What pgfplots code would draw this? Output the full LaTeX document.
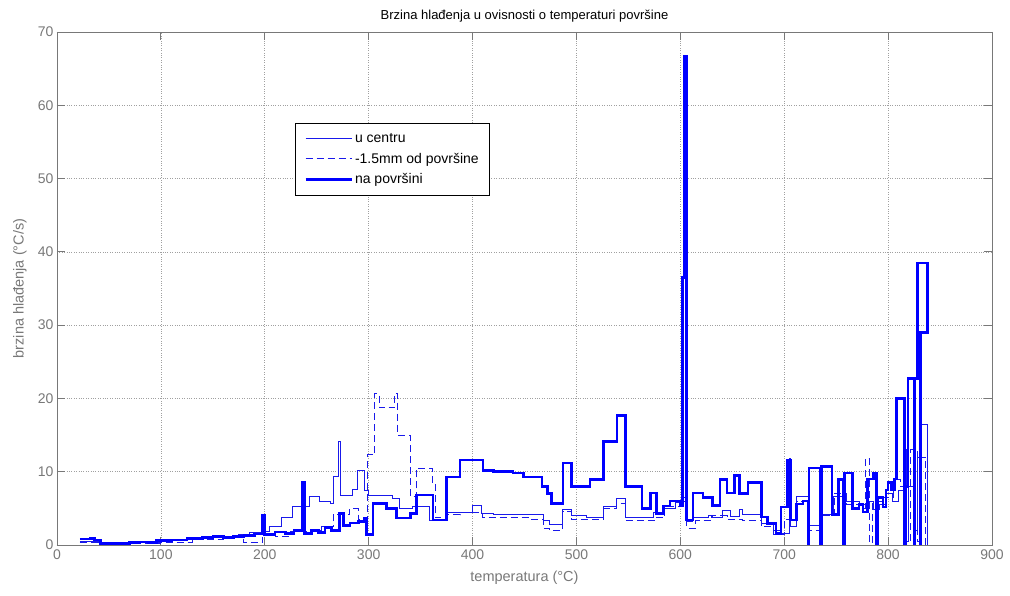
\documentclass[border=0pt]{standalone}
\usepackage{fontspec}
\setmainfont{Liberation Sans}
\usepackage{pgfplots}
\pgfplotsset{compat=1.18}
\definecolor{axgray}{RGB}{120,120,120}
\definecolor{thinblue}{RGB}{25,25,235}
\definecolor{thickblue}{RGB}{0,0,255}

\begin{document}
\begin{tikzpicture}[x=1pt,y=1pt]
\path[use as bounding box] (0,0) rectangle (1010,596);
\begin{axis}[
  at={(57pt,51pt)}, anchor=south west,
  scale only axis, width=935pt, height=513pt,
  xmin=0, xmax=900, ymin=0, ymax=70,
  xtick={0,100,...,900}, ytick={0,10,...,70},
  xtick pos=both, ytick pos=both,
  tick align=inside, major tick length=8pt,
  grid=major,
  major grid style={dotted, color=axgray!70, line width=0.7pt},
  axis line style={axgray, line width=0.8pt},
  tick style={axgray, line width=0.8pt},
  tick label style={font=\fontsize{14}{14}\selectfont, text=axgray},
  /pgf/number format/assume math mode=true,
  xticklabel style={yshift=-1pt},
  title={Brzina hlađenja u ovisnosti o temperaturi površine},
  title style={font=\fontsize{13}{14}\selectfont, at={(axis description cs:0.5,1.0194)}, anchor=center, yshift=0pt},
  xlabel={temperatura (°C)},
  ylabel={brzina hlađenja (°C/s)},
  xlabel style={font=\fontsize{14.5}{15}\selectfont, text=axgray, at={(axis description cs:0.5,-0.0643)}, anchor=center},
  ylabel style={font=\fontsize{14.5}{15}\selectfont, text=axgray, at={(axis description cs:-0.0396,0.5)}, anchor=center},
  legend cell align=left,
  legend style={at={(0.2546,0.8226)}, anchor=north west, draw=black, line width=0.8pt,
    fill=white, font=\fontsize{14}{15}\selectfont, inner xsep=9pt, inner ysep=8pt,
    row sep=5pt},
  legend image code/.code={\draw[#1] (0pt,0pt) -- (46pt,0pt);},
]
% u centru
\addplot[const plot, draw=thinblue, line width=1pt] coordinates {
(22,0.5) (40,0.3) (60,0.3) (80,0.4) (100,0.6) (120,0.7) (135,0.9) (150,1.1)
(165,1.0) (175,1.4) (185,1.7) (198,1.8) (205,2.5) (216,3.7) (227,5.2) (243,6.6)
(253,6.0) (263,5.7) (266,9.3) (271,14.1) (273,6.8) (284,7.6) (289,10.2) (296,7.4)
(300,6.8) (323,6.4) (330,5.0) (342,5.3) (359,3.4) (376,4.5) (400,5.4) (409,4.3)
(420,4.2) (439,4.1) (468,3.4) (474,2.8) (487,4.8) (495,4.0) (510,3.7) (526,5.3)
(539,6.4) (547,3.7) (574,4.4) (585,5.0) (595,5.8) (603,6.5) (606,3.2) (612,3.7)
(627,4.0) (631,3.7) (641,4.7) (648,3.9) (657,4.8) (660,4.1) (678,3.0) (690,2.0)
(696,1.6) (705,11.8) (706,2.5) (712,6.6) (723,2.7) (734,4.1) (747,6.6) (760,5.9)
(772,5.5) (780,6.0) (786,4.8) (792,5.5) (798,7.0) (804,6.0) (810,7.5) (815,13.0)
(818,0.5) (820,8.0) (824,2.0) (828,12.0) (832,16.5) (838,0)
};
\addlegendentry{u centru}
% -1.5mm od povrsine
\addplot[const plot, draw=thinblue, line width=1pt, dash pattern=on 7pt off 4pt] coordinates {
(22,0.3) (60,0.2) (100,0.4) (130,0.8) (160,0.9) (175,1.3) (180,0.3) (198,1.6)
(210,1.2) (225,1.8) (245,2.0) (255,2.5) (266,4.2) (282,5.0) (290,3.5) (299,12.3)
(306,20.7) (310,18.7) (325,20.7) (328,15.0) (340,6.6) (346,10.5) (361,8.4) (364,3.7)
(376,4.1) (388,4.5) (410,3.7) (455,3.5) (468,2.3) (474,2.0) (487,4.6) (495,3.5)
(510,3.5) (526,5.0) (539,5.6) (547,3.3) (575,3.7) (585,5.2) (600,6.0) (606,2.3)
(615,3.3) (630,4.0) (645,3.5) (660,3.4) (678,2.5) (690,1.5) (700,3.5) (712,6.0)
(723,2.0) (734,4.0) (748,7.0) (760,5.5) (772,5.0) (778,11.8) (782,0.3) (785,6.0)
(795,6.5) (805,9.0) (812,8.0) (818,0.5) (822,13.0) (828,0.5) (830,12.0) (836,0)
};
\addlegendentry{-1.5mm od površine}
% na povrsini
\addplot[const plot, draw=thickblue, line width=2.6pt] coordinates {
(22,0.8) (32,0.9) (36,0.7) (42,0.2) (60,0.2) (70,0.3) (80,0.4) (88,0.3)
(96,0.6) (110,0.7) (125,0.9) (140,1.0) (150,1.2) (160,1.0) (170,1.2) (180,1.3)
(190,1.5) (198,4.0) (200,1.4) (210,1.8) (220,1.6) (228,2.0) (236,8.6) (238,1.6)
(245,2.0) (252,1.7) (258,2.4) (264,2.0) (272,4.3) (276,2.7) (282,3.0) (290,3.2)
(296,3.6) (298,1.4) (304,5.7) (317,5.0) (327,3.7) (340,4.3) (346,6.8) (362,3.4)
(375,9.3) (388,11.6) (410,10.2) (420,10.0) (439,9.8) (449,9.3) (467,8.0) (472,7.0)
(476,5.7) (487,11.2) (495,8.0) (513,8.9) (526,14.1) (539,17.7) (547,8.0) (563,5.0)
(571,7.1) (577,4.3) (584,5.3) (590,6.0) (600,5.3) (602,36.5) (603.5,66.7) (606,3.4)
(612,7.1) (622,6.5) (631,5.4) (638,8.9) (645,7.1) (652,9.5) (657,7.0) (665,8.5)
(678,3.8) (684,2.9) (692,1.6) (697,5.2) (703,11.6) (706,3.4) (712,5.6) (718,6.0)
(723,0) (724,10.5) (735,0) (736,10.7) (746,4.2) (752,8.9) (757,0) (758,9.8)
(766,5.0) (772,5.5) (776,4.5) (780,9.0) (786,9.8) (789,0) (790,6.5) (795,5.2)
(798,7.5) (800,8.5) (803,7.5) (806,9.0) (808,20.0) (816,0) (817,8.0) (819,22.7)
(825,0) (826,22.7) (828,38.5) (838,29.0) (838.5,29.0)
};
\addlegendentry{na površini}
\addplot[draw=thickblue, line width=2.6pt, forget plot] coordinates {
(838,29.0) (831,29.0) (831,0)
};
\end{axis}
\end{tikzpicture}
\end{document}
